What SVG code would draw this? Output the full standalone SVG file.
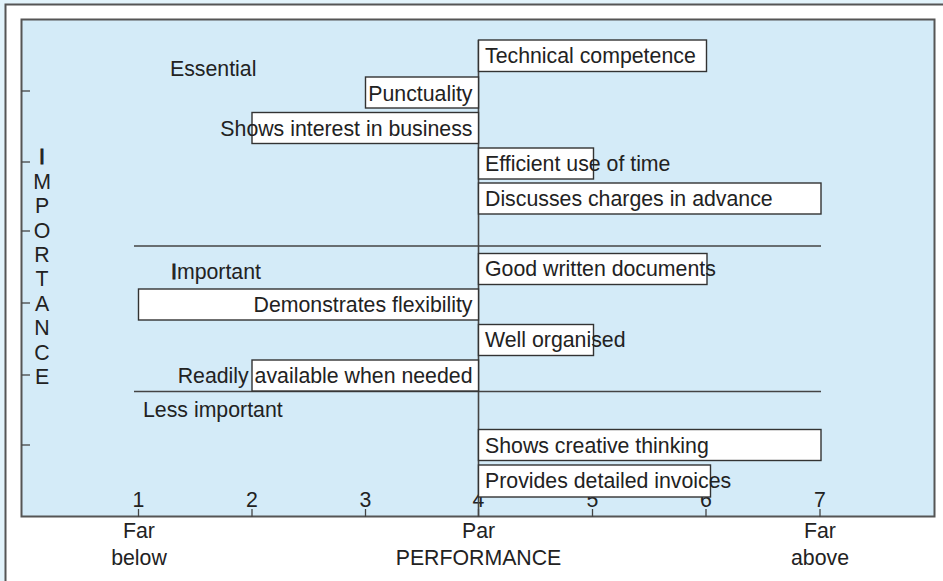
<svg xmlns="http://www.w3.org/2000/svg" width="943" height="581" viewBox="0 0 943 581">
<style>
text{font-family:"Liberation Sans",Arial,Helvetica,sans-serif;fill:#222;font-size:21.3px}
.box{fill:#fff;stroke:#333;stroke-width:1.4}
.ln{stroke:#444;stroke-width:1.6;fill:none}
.tk{stroke:#444;stroke-width:1.3}
.v{font-size:18.5px;text-anchor:middle}
.m{text-anchor:middle}
.e{text-anchor:end}
.h{stroke:#222;stroke-width:0.9}
</style>
<rect x="0" y="0" width="943" height="581" fill="#e2f3fb"/>
<rect x="5.5" y="4.5" width="960" height="600" fill="#fff" stroke="#555" stroke-width="2"/>
<rect x="21.5" y="19.5" width="913" height="497" fill="#d4ebf8" stroke="#555" stroke-width="2"/>

<g id="axes">
  <g class="tk">
    <line x1="21.5" y1="91" x2="30" y2="91"/>
    <line x1="21.5" y1="162" x2="30" y2="162"/>
    <line x1="21.5" y1="231" x2="30" y2="231"/>
    <line x1="21.5" y1="303" x2="30" y2="303"/>
    <line x1="21.5" y1="375" x2="30" y2="375"/>
    <line x1="21.5" y1="445" x2="30" y2="445"/>
    <line x1="138.5" y1="509" x2="138.5" y2="517"/>
    <line x1="252" y1="509" x2="252" y2="517"/>
    <line x1="365.5" y1="509" x2="365.5" y2="517"/>
    <line x1="478.5" y1="509" x2="478.5" y2="517"/>
    <line x1="592.5" y1="509" x2="592.5" y2="517"/>
    <line x1="706" y1="509" x2="706" y2="517"/>
    <line x1="820" y1="509" x2="820" y2="517"/>
  </g>
  <g class="v">
    <text x="42" y="164" class="h">I</text>
    <text x="42" y="189">M</text>
    <text x="42" y="213">P</text>
    <text x="42" y="238">O</text>
    <text x="42" y="262">R</text>
    <text x="42" y="286">T</text>
    <text x="42" y="311">A</text>
    <text x="42" y="335">N</text>
    <text x="42" y="360">C</text>
    <text x="42" y="384">E</text>
  </g>
  <g class="m">
    <text x="138.5" y="507">1</text>
    <text x="252" y="507">2</text>
    <text x="365.5" y="507">3</text>
    <text x="478.5" y="507">4</text>
    <text x="592.5" y="507">5</text>
    <text x="706" y="507">6</text>
    <text x="820" y="507">7</text>
    <text x="139" y="538">Far</text>
    <text x="139" y="565">below</text>
    <text x="478.5" y="538">Par</text>
    <text x="478.5" y="565">PERFORMANCE</text>
    <text x="820" y="538">Far</text>
    <text x="820" y="565">above</text>
  </g>
  <text x="170" y="76">Essential</text>
  <text x="171" y="279"><tspan class="h">I</tspan>mportant</text>
  <text x="143" y="417">Less important</text>
</g>

<g id="connectors">
  <line class="ln" x1="478.5" y1="40" x2="478.5" y2="517"/>
  <line class="ln" x1="134" y1="246" x2="821" y2="246"/>
  <line class="ln" x1="134" y1="391.5" x2="821" y2="391.5"/>
</g>

<g id="technical-competence">
  <rect class="box" x="478.5" y="40" width="228" height="31.5"/>
  <text x="485" y="62.5">Technical competence</text>
</g>
<g id="punctuality">
  <rect class="box" x="365.5" y="77" width="113" height="31"/>
  <text class="e" x="472.5" y="100.5">Punctuality</text>
</g>
<g id="shows-interest">
  <rect class="box" x="252" y="112.5" width="226.5" height="31"/>
  <text class="e" x="472.5" y="135.5">Shows interest in business</text>
</g>
<g id="efficient-use">
  <rect class="box" x="478.5" y="148" width="115" height="31"/>
  <text x="485" y="171">Efficient use of time</text>
</g>
<g id="discusses-charges">
  <rect class="box" x="478.5" y="183" width="342.5" height="31"/>
  <text x="485" y="205.5">Discusses charges in advance</text>
</g>
<g id="good-written">
  <rect class="box" x="478.5" y="253.5" width="228.5" height="31"/>
  <text x="485" y="276">Good written documents</text>
</g>
<g id="demonstrates-flexibility">
  <rect class="box" x="138.5" y="289" width="340" height="31"/>
  <text class="e" x="472.5" y="311.5">Demonstrates flexibility</text>
</g>
<g id="well-organised">
  <rect class="box" x="478.5" y="324.5" width="115" height="31"/>
  <text x="485" y="346.5">Well organised</text>
</g>
<g id="readily-available">
  <rect class="box" x="252" y="360" width="226.5" height="31"/>
  <text class="e" x="472.5" y="382.5">Readily available when needed</text>
</g>
<g id="creative-thinking">
  <rect class="box" x="478.5" y="429.5" width="342.5" height="31"/>
  <text x="485" y="452.5">Shows creative thinking</text>
</g>
<g id="detailed-invoices">
  <rect class="box" x="478.5" y="465" width="232" height="32"/>
  <text x="485" y="488">Provides detailed invoices</text>
</g>
</svg>
